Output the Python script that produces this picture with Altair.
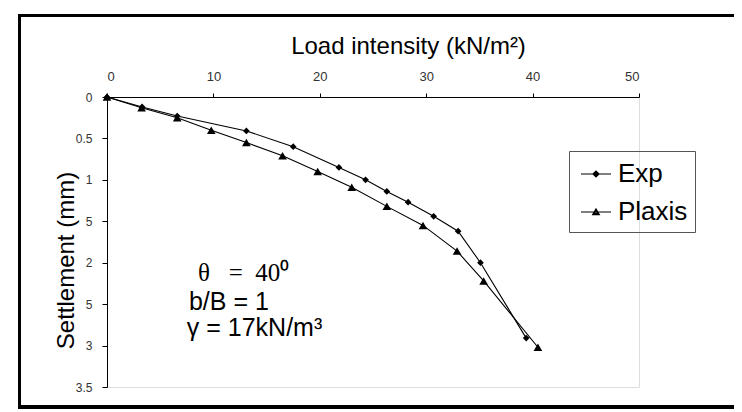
import altair as alt
import pandas as pd

# ---- data ----
exp_load = [0, 3.3, 6.6, 13.1, 17.5, 21.8, 24.3, 26.3, 28.3, 30.7, 33.0, 35.1, 39.4]
exp_settle = [0, 0.12, 0.23, 0.41, 0.60, 0.85, 1.00, 1.14, 1.27, 1.44, 1.62, 2.00, 2.91]
plx_load = [0, 3.25, 6.6, 9.8, 13.1, 16.5, 19.8, 23.0, 26.3, 29.7, 32.9, 35.4, 40.5]
plx_settle = [0, 0.13, 0.25, 0.40, 0.55, 0.71, 0.90, 1.09, 1.32, 1.55, 1.86, 2.22, 3.02]
series_names = ["Exp", "Plaxis"]

x_ticks = [0, 10, 20, 30, 40, 50]
y_ticks = [0, 0.5, 1, 1.5, 2, 2.5, 3, 3.5]

note_text = ["θ\u00a0\u00a0\u00a0=\u00a0\u00a040⁰", "b/B = 1", "γ = 17kN/m³"]
note_load = [8.55, 7.7, 7.5]
note_settle = [2.22, 2.57, 2.89]
note_serif = [True, False, False]

df = pd.DataFrame({
    "load": exp_load + plx_load,
    "settle": exp_settle + plx_settle,
    "series": [series_names[0]] * len(exp_load) + [series_names[1]] * len(plx_load),
})
notes = pd.DataFrame({"load": note_load, "settle": note_settle, "text": note_text, "serif": note_serif})

FONT = "Liberation Sans"

x_axis = alt.Axis(
    orient="top", values=x_ticks, grid=False, tickSize=4, labelPadding=10,
    labelFontSize=13, labelColor="#333", labelFont=FONT,
    domainColor="black", tickColor="black",
    title="Load intensity (kN/m²)", titleFontSize=24, titleFont=FONT,
    titleFontWeight="normal", titleColor="black",
    titleX=301, titleY=-44, titleBaseline="alphabetic", titleAnchor="middle",
)
y_axis = alt.Axis(
    orient="left", values=y_ticks, grid=False, tickSize=5, labelPadding=10,
    labelFontSize=12, labelColor="#333", labelFont=FONT,
    labelExpr="datum.value == 1.5 || datum.value == 2.5 ? '5' : datum.value + ''",
    domainColor="black", tickColor="black",
    title="Settlement (mm)", titleFontSize=24, titleFont=FONT,
    titleFontWeight="normal", titleColor="black",
    titleX=-34, titleY=163, titleBaseline="alphabetic", titleAngle=270,
)

x_enc = alt.X("load:Q", scale=alt.Scale(domain=[0, 50], nice=False), axis=x_axis)
y_enc = alt.Y("settle:Q", scale=alt.Scale(domain=[0, 3.5], reverse=True, nice=False), axis=y_axis)

base = alt.Chart(df)

# outer frame (top, left, bottom edges; the right edge lies outside the picture)
frame_top = alt.Chart(df).mark_rule(color="black", strokeWidth=3).encode(
    x=alt.value(-89), x2=alt.value(700), y=alt.value(-81.5)
)
frame_bottom = alt.Chart(df).mark_rule(color="black", strokeWidth=3).encode(
    x=alt.value(-89), x2=alt.value(700), y=alt.value(310)
)
frame_left = alt.Chart(df).mark_rule(color="black", strokeWidth=3).encode(
    x=alt.value(-87.5), y=alt.value(-83), y2=alt.value(311.5)
)

lines = base.mark_line(color="black", strokeWidth=1.1).encode(
    x=x_enc, y=y_enc, detail="series:N"
)

exp_pts = base.transform_filter(alt.datum.series == "Exp").mark_point(
    shape="diamond", filled=True, size=45, color="black", opacity=1
).encode(x=x_enc, y=y_enc)

plx_pts = base.transform_filter(alt.datum.series == "Plaxis").mark_point(
    shape="triangle-up", filled=True, size=75, color="black", opacity=1
).encode(x=x_enc, y=y_enc)

# legend symbols: a short line with the marker drawn as nested outlines
path_exp = ("M-1,0H1M-0.2,0L0,-0.2L0.2,0L0,0.2Z"
            "M-0.1,0L0,-0.1L0.1,0L0,0.1Z")
path_plx = ("M-1,0H1M-0.22,0.17L0,-0.21L0.22,0.17Z"
            "M-0.11,0.1L0,-0.09L0.11,0.1Z")

legend_layer = base.mark_point(
    filled=False, color="black", stroke="black", strokeWidth=1.2, opacity=0
).encode(
    x=x_enc, y=y_enc,
    shape=alt.Shape(
        "series:N",
        scale=alt.Scale(domain=series_names, range=[path_exp, path_plx]),
        legend=alt.Legend(
            title=None, orient="none", legendX=462, legendY=54,
            strokeColor="#555", padding=7, symbolSize=900, symbolOffset=4,
            symbolFillColor="black", symbolStrokeColor="black",
            symbolStrokeWidth=1.2, symbolOpacity=1,
            labelFontSize=26, labelFont=FONT, labelColor="black",
            rowPadding=9, labelOffset=6,
        ),
    ),
)

notes_chart = alt.Chart(notes)
text_serif = notes_chart.transform_filter(alt.datum.serif == True).mark_text(
    align="left", baseline="alphabetic", fontSize=25, color="black", font="Liberation Serif"
).encode(x=x_enc, y=y_enc, text="text:N")
text_sans = notes_chart.transform_filter(alt.datum.serif == False).mark_text(
    align="left", baseline="alphabetic", fontSize=25, color="black", font=FONT
).encode(x=x_enc, y=y_enc, text="text:N")

chart = alt.layer(
    frame_top, frame_bottom, frame_left, lines, exp_pts, plx_pts, legend_layer, text_serif, text_sans
).properties(
    width=532, height=290,
    padding={"left": 99, "top": 89, "right": 95, "bottom": 23},
    autosize=alt.AutoSizeParams(type="none"),
).configure_view(stroke=None).configure(background="white")

chart.save("out.html", embed_options={"renderer": "svg", "actions": False})
